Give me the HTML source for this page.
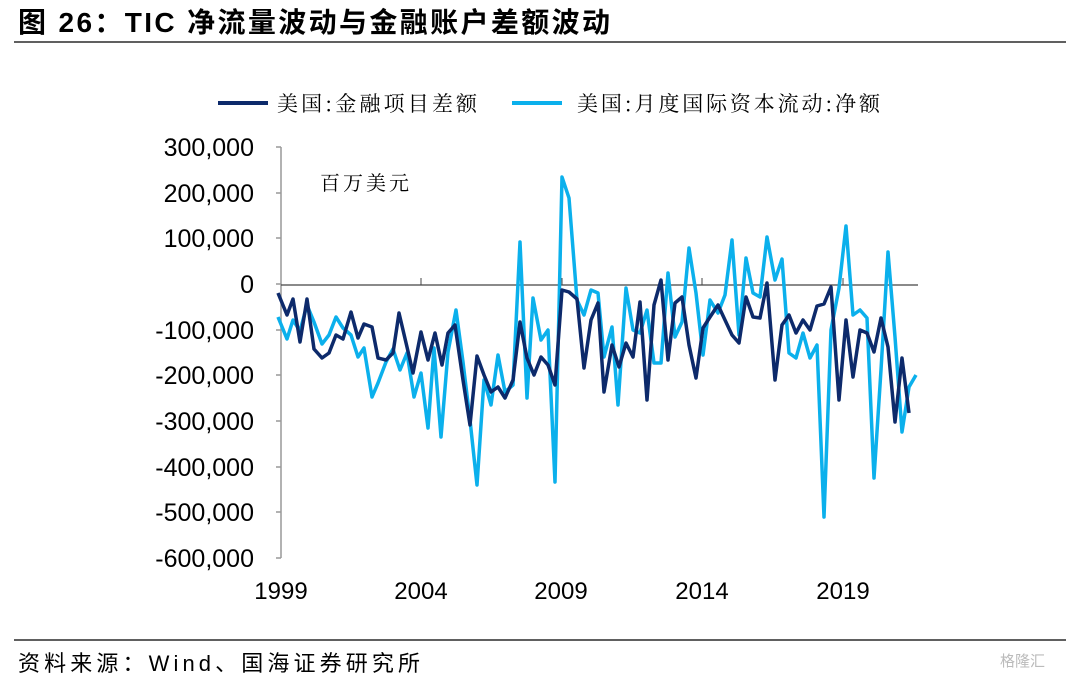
<!DOCTYPE html>
<html><head><meta charset="utf-8"><style>
body{margin:0;background:#fff;width:1080px;height:678px;overflow:hidden;font-family:"Liberation Sans","Noto Sans CJK SC",sans-serif}
</style></head><body>
<svg width="1080" height="678" xmlns="http://www.w3.org/2000/svg" style="position:absolute;left:0;top:0">
<text x="18" y="32" font-size="28" font-weight="bold" textLength="592" lengthAdjust="spacing" font-family="Liberation Sans,Noto Sans CJK SC,sans-serif">图 26：TIC 净流量波动与金融账户差额波动</text>
<line x1="14" y1="42" x2="1066" y2="42" stroke="#000" stroke-width="1.2"/>
<line x1="218" y1="103" x2="268" y2="103" stroke="#0d2a6b" stroke-width="4"/>
<text x="277" y="111" font-size="21" textLength="200" lengthAdjust="spacing" font-family="Noto Serif CJK SC,serif">美国:金融项目差额</text>
<line x1="512" y1="103" x2="562" y2="103" stroke="#0bb0ec" stroke-width="4"/>
<text x="577" y="111" font-size="21" textLength="303" lengthAdjust="spacing" font-family="Noto Serif CJK SC,serif">美国:月度国际资本流动:净额</text>
<g font-size="25" text-anchor="end" fill="#000">
<text x="254" y="156">300,000</text><text x="254" y="202">200,000</text><text x="254" y="247">100,000</text><text x="254" y="293">0</text><text x="254" y="339">-100,000</text><text x="254" y="384">-200,000</text><text x="254" y="430">-300,000</text><text x="254" y="476">-400,000</text><text x="254" y="521">-500,000</text><text x="254" y="567">-600,000</text>
</g>
<line x1="281" y1="147" x2="281" y2="558" stroke="#999" stroke-width="1.5"/>
<g stroke="#999" stroke-width="1.5">
<line x1="276" y1="147" x2="281" y2="147"/><line x1="276" y1="193" x2="281" y2="193"/><line x1="276" y1="238" x2="281" y2="238"/><line x1="276" y1="284" x2="281" y2="284"/><line x1="276" y1="330" x2="281" y2="330"/><line x1="276" y1="375" x2="281" y2="375"/><line x1="276" y1="421" x2="281" y2="421"/><line x1="276" y1="467" x2="281" y2="467"/><line x1="276" y1="512" x2="281" y2="512"/><line x1="276" y1="558" x2="281" y2="558"/>
</g>
<line x1="281" y1="285" x2="918" y2="285" stroke="#444" stroke-width="1.2"/>
<g stroke="#444"><line x1="421" y1="278" x2="421" y2="285"/><line x1="702" y1="278" x2="702" y2="285"/><line x1="843" y1="278" x2="843" y2="285"/><line x1="562" y1="278" x2="562" y2="285"/></g>
<g font-size="24" text-anchor="middle"><text x="281" y="599">1999</text><text x="421" y="599">2004</text><text x="561" y="599">2009</text><text x="702" y="599">2014</text><text x="843" y="599">2019</text></g>
<text x="320" y="190" font-size="20" font-family="Liberation Serif,Noto Serif CJK SC,serif" letter-spacing="3">百万美元</text>
<polyline fill="none" stroke="#0bb0ec" stroke-width="3.5" stroke-linejoin="round" points="278,317 287,339 293,320 300,331 307,305 314,322 322,344 329,335 336,317 343,328 351,335 358,357 364,348 372,397 378,383 386,362 393,349 400,370 407,353 414,397 421,373 428,428 434,348 441,437 448,352 456,310 463,362 470,420 477,485 484,380 491,405 498,355 505,392 513,385 520,242 527,398 533,298 541,340 548,330 555,482 562,177 569,198 577,300 584,315 591,290 598,293 604,357 612,327 618,405 626,288 633,330 640,333 647,310 654,363 661,363 668,273 675,337 682,322 689,248 696,293 703,355 710,300 718,313 725,295 732,240 739,335 746,258 753,293 760,297 767,237 775,280 782,259 789,353 796,358 803,333 810,358 817,345 824,517 831,330 839,288 846,226 853,315 860,310 867,318 874,478 881,370 888,252 895,337 902,432 909,387 916,375"/>
<polyline fill="none" stroke="#0d2a6b" stroke-width="3.5" stroke-linejoin="round" points="278,293 287,315 293,299 300,342 307,299 314,349 322,358 329,353 336,335 343,339 351,312 358,338 364,324 372,327 378,358 386,360 393,353 399,313 407,347 413,373 421,332 428,360 435,333 442,365 448,333 455,325 463,380 470,425 477,356 484,375 491,392 498,387 505,398 513,380 520,322 527,358 534,375 541,357 548,365 555,385 562,290 569,292 577,299 584,368 591,320 598,303 604,392 612,345 619,367 626,343 633,357 640,302 647,400 654,305 661,280 668,360 675,303 682,297 689,345 696,378 703,328 710,317 718,305 725,320 732,335 739,343 746,297 753,317 760,318 767,283 775,380 782,325 789,315 796,333 803,320 810,330 817,306 824,304 831,287 839,400 846,320 853,377 860,330 867,333 874,352 881,318 888,347 895,422 902,358 909,413"/>
<line x1="14" y1="640" x2="1066" y2="640" stroke="#000" stroke-width="1.2"/>
<text x="18" y="671" font-size="22" textLength="402" lengthAdjust="spacing" font-family="Liberation Sans,Noto Sans CJK SC,sans-serif">资料来源：Wind、国海证券研究所</text>
<text x="1000" y="666" font-size="15" fill="#bbb">格隆汇</text>
</svg>
</body></html>
